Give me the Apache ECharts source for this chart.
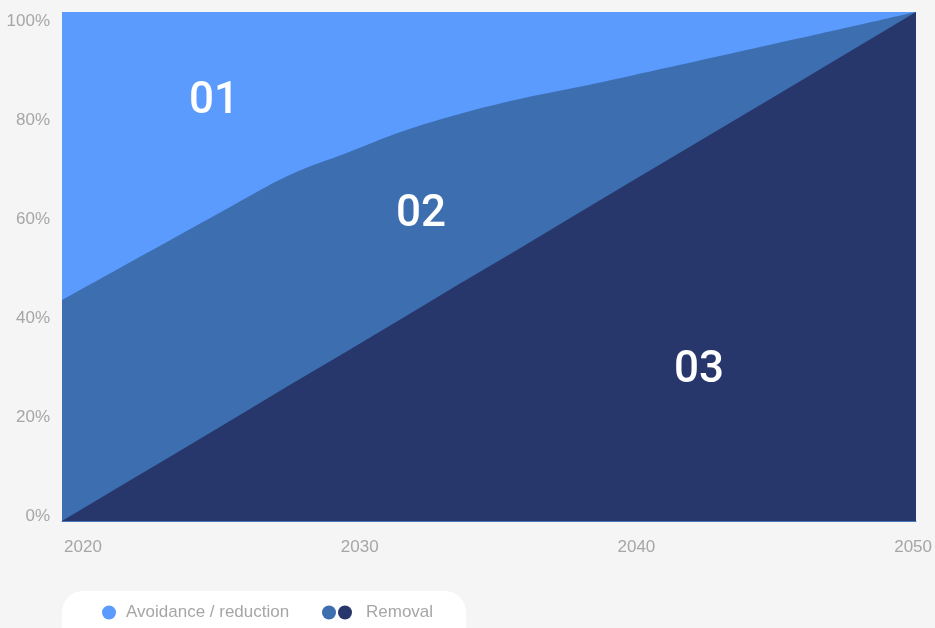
<!DOCTYPE html>
<html>
<head>
<meta charset="utf-8">
<script src="https://cdn.jsdelivr.net/npm/echarts@6/dist/echarts.min.js"></script>
<style>
  html, body { margin: 0; padding: 0; background: #f5f5f5; }
  #chart { width: 935px; height: 628px; }
</style>
</head>
<body>
<div id="chart"></div>
<script>
// Shares of the pathway (%)
const years = [2020, 2022, 2024, 2026, 2028, 2030, 2032, 2034, 2036, 2038, 2040, 2045, 2050];
const removalShare    = [0, 6.7, 13.3, 20, 26.7, 33.3, 40, 46.7, 53.3, 60, 66.7, 83.3, 100];
const transitionShare = [43.4, 42.9, 42.5, 42.0, 41.3, 39.0, 36.6, 33.3, 29.5, 25.1, 20.8, 10.4, 0];
const avoidanceShare  = [56.6, 50.4, 44.2, 38.0, 32.0, 27.7, 23.4, 20.0, 17.2, 14.9, 12.5, 6.3, 0];

const yTicks = [0, 20, 40, 60, 80, 100];
const xTicks = [2020, 2030, 2040, 2050];
const zoneLabels = ['01', '02', '03'];

const colors = { avoid: '#5b9bfe', mid: '#3c6eb0', dark: '#27366b' };
const labelFont = 'Liberation Sans, Arial, sans-serif';
const gray = '#a6a6a6';

// cumulative tops of each band
const cumDark = removalShare.slice();
const cumMid = removalShare.map((v, i) => v + transitionShare[i]);
const cumAll = cumMid.map((v, i) => v + avoidanceShare[i]);
const pairs = arr => years.map((y, i) => [y, arr[i]]);

const chart = echarts.init(document.getElementById('chart'), null, { renderer: 'canvas' });

const areaSeries = (name, arr, color, smooth, z) => ({
  name: name,
  type: 'line',
  xAxisIndex: 0,
  yAxisIndex: 0,
  smooth: smooth,
  symbol: 'none',
  z: z,
  lineStyle: { width: 0 },
  areaStyle: { color: color, opacity: 1, origin: 'start' },
  itemStyle: { color: color },
  emphasis: { disabled: true },
  data: pairs(arr)
});

const zoneText = (txt, x, y) => ({
  type: 'text', z: 10, x: x, y: y,
  style: { text: txt, fill: '#ffffff', fontSize: 44, fontFamily: 'Roboto', fontWeight: 500,
    align: 'center', verticalAlign: 'middle' }
});

chart.setOption({
  backgroundColor: '#f5f5f5',
  animation: false,
  grid: [
    { left: 62, right: 19, top: 12, bottom: 107 },      // data
    { left: 62, right: 19, top: 21.5, bottom: 112 },    // y labels
    { left: 83, right: 19, top: 12, bottom: 107 }       // x labels
  ],
  xAxis: [
    { gridIndex: 0, type: 'value', min: 2020, max: 2050, show: true,
      axisLine: { show: true, lineStyle: { color: '#4a74bb', width: 1 } },
      axisTick: { show: false }, axisLabel: { show: false }, splitLine: { show: false } },
    { gridIndex: 1, type: 'value', min: 0, max: 1, show: false },
    { gridIndex: 2, type: 'value', min: xTicks[0], max: xTicks[xTicks.length - 1], interval: 10,
      axisLine: { show: false }, axisTick: { show: false }, splitLine: { show: false },
      axisLabel: { color: gray, fontSize: 17, fontFamily: labelFont, margin: 18,
        formatter: v => String(v), showMinLabel: true, showMaxLabel: true } }
  ],
  yAxis: [
    { gridIndex: 0, type: 'value', min: 0, max: 100, show: false },
    { gridIndex: 1, type: 'value', min: yTicks[0], max: yTicks[yTicks.length - 1], interval: 20,
      axisLine: { show: false }, axisTick: { show: false }, splitLine: { show: false },
      axisLabel: { color: gray, fontSize: 17, fontFamily: labelFont, margin: 12,
        formatter: '{value}%' } },
    { gridIndex: 2, type: 'value', min: 0, max: 1, show: false }
  ],
  legend: [
    { left: 97, top: 599, icon: 'circle', itemWidth: 14, itemHeight: 14, selectedMode: false,
      data: ['Avoidance / reduction'],
      textStyle: { color: gray, fontSize: 17, fontFamily: labelFont, padding: [0, 0, 0, 5] } },
    { left: 317, top: 599, icon: 'circle', itemWidth: 14, itemHeight: 14, itemGap: 2, selectedMode: false,
      data: ['Removal (transition)', 'Removal'],
      formatter: name => name === 'Removal' ? 'Removal' : '',
      textStyle: { color: gray, fontSize: 17, fontFamily: labelFont, padding: [0, 0, 0, 9] } }
  ],
  graphic: [
    { type: 'rect', z: 0, shape: { x: 62, y: 591, width: 404, height: 60, r: 21 },
      style: { fill: '#ffffff' }, silent: true },
    zoneText(zoneLabels[0], 214, 102),
    zoneText(zoneLabels[1], 421, 215),
    zoneText(zoneLabels[2], 699, 371)
  ],
  series: [
    areaSeries('Avoidance / reduction', cumAll, colors.avoid, false, 2),
    areaSeries('Removal (transition)', cumMid, colors.mid, 0.4, 3),
    areaSeries('Removal', cumDark, colors.dark, false, 4)
  ]
});
</script>
</body>
</html>
